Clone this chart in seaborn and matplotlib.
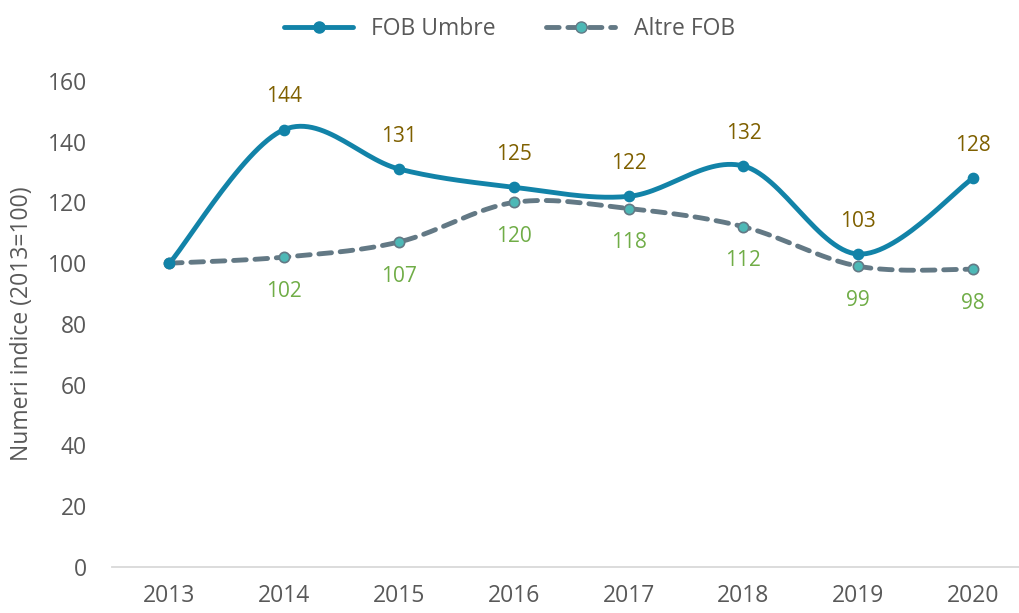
import numpy as np
import pandas as pd
import seaborn as sns
import matplotlib.pyplot as plt

# Chart data
years = ['2013', '2014', '2015', '2016', '2017', '2018', '2019', '2020']
fob_umbre = [100, 144, 131, 125, 122, 132, 103, 128]
altre_fob = [100, 102, 107, 120, 118, 112, 99, 98]
umbre_labels = ['', '144', '131', '125', '122', '132', '103', '128']
altre_labels = ['', '102', '107', '120', '118', '112', '99', '98']

teal = '#1283A8'
slate = '#637985'
marker_fill = '#4DB8B6'
gold = '#7F6000'
green = '#70AD47'
grey = '#595959'


def smooth(y, n=30):
    # Excel-like smoothed line: cubic Bezier segments with Catmull-Rom tangents
    x = np.arange(len(y), dtype=float)
    y = np.asarray(y, dtype=float)
    xs, ys = [], []
    for i in range(len(y) - 1):
        p0 = (x[max(i - 1, 0)], y[max(i - 1, 0)])
        p1 = (x[i], y[i])
        p2 = (x[i + 1], y[i + 1])
        p3 = (x[min(i + 2, len(y) - 1)], y[min(i + 2, len(y) - 1)])
        c1 = (p1[0] + (p2[0] - p0[0]) / 6, p1[1] + (p2[1] - p0[1]) / 6)
        c2 = (p2[0] - (p3[0] - p1[0]) / 6, p2[1] - (p3[1] - p1[1]) / 6)
        t = np.linspace(0, 1, n)
        bx = (1 - t) ** 3 * p1[0] + 3 * (1 - t) ** 2 * t * c1[0] + 3 * (1 - t) * t ** 2 * c2[0] + t ** 3 * p2[0]
        by = (1 - t) ** 3 * p1[1] + 3 * (1 - t) ** 2 * t * c1[1] + 3 * (1 - t) * t ** 2 * c2[1] + t ** 3 * p2[1]
        xs.extend(bx)
        ys.extend(by)
    return np.array(xs), np.array(ys)


sns.set_style('white')
plt.rcParams['font.family'] = ['Open Sans', 'DejaVu Sans']

df = pd.DataFrame({'x': np.arange(len(years)), 'umbre': fob_umbre, 'altre': altre_fob})

fig = plt.figure(figsize=(10.19, 6.13), dpi=100)
ax = fig.add_axes([0.110, 0.075, 0.89, 0.793])

dash = (0, (2.6, 1.8))

# smoothed lines
sx, sy = smooth(altre_fob)
ax.plot(sx, sy, color=slate, lw=3.5, ls=dash, dash_capstyle='round', zorder=2)
sx, sy = smooth(fob_umbre)
ax.plot(sx, sy, color=teal, lw=3.5, zorder=3, solid_capstyle='round')

# markers at data points
sns.scatterplot(data=df, x='x', y='altre', ax=ax, color=marker_fill, edgecolor=slate,
                linewidth=1.2, s=55, zorder=4, legend=False)
sns.scatterplot(data=df, x='x', y='umbre', ax=ax, color=teal, edgecolor=teal,
                linewidth=1, s=55, zorder=5, legend=False)

# data labels
for i in range(len(years)):
    if umbre_labels[i]:
        ax.annotate(umbre_labels[i], (i, fob_umbre[i]), xytext=(0, 16), textcoords='offset points',
                    ha='center', va='bottom', color=gold, fontsize=15)
    if altre_labels[i]:
        ax.annotate(altre_labels[i], (i, altre_fob[i]), xytext=(0, -17), textcoords='offset points',
                    ha='center', va='top', color=green, fontsize=15)

ax.set_xlim(-0.5, 7.4)
ax.set_ylim(0, 160)
ax.set_yticks(range(0, 161, 20))
ax.set_xticks(range(len(years)))
ax.set_xticklabels(years)
ax.tick_params(axis='both', colors=grey, labelsize=16.5, length=0)
ax.tick_params(axis='y', pad=18)
ax.tick_params(axis='x', pad=12)
ax.set_xlabel('')
ax.set_ylabel('Numeri indice (2013=100)', color=grey, fontsize=16.5, labelpad=10)

for s in ['top', 'right', 'left']:
    ax.spines[s].set_visible(False)
ax.spines['bottom'].set_color('#D9D9D9')
ax.spines['bottom'].set_linewidth(1.3)

# legend
h1 = plt.Line2D([], [], color=teal, lw=3.5, marker='o', markersize=8, markerfacecolor=teal)
h2 = plt.Line2D([], [], color=slate, lw=3.5, ls=dash, dash_capstyle='round',
                marker='o', markersize=8, markerfacecolor=marker_fill, markeredgecolor=slate)
fig.legend([h1, h2], ['FOB Umbre', 'Altre FOB'], loc='center', bbox_to_anchor=(0.5, 0.953),
           ncol=2, frameon=False, fontsize=16.5, labelcolor=grey, handlelength=3.0,
           columnspacing=2.2)

fig.savefig('out.png', dpi=100)
